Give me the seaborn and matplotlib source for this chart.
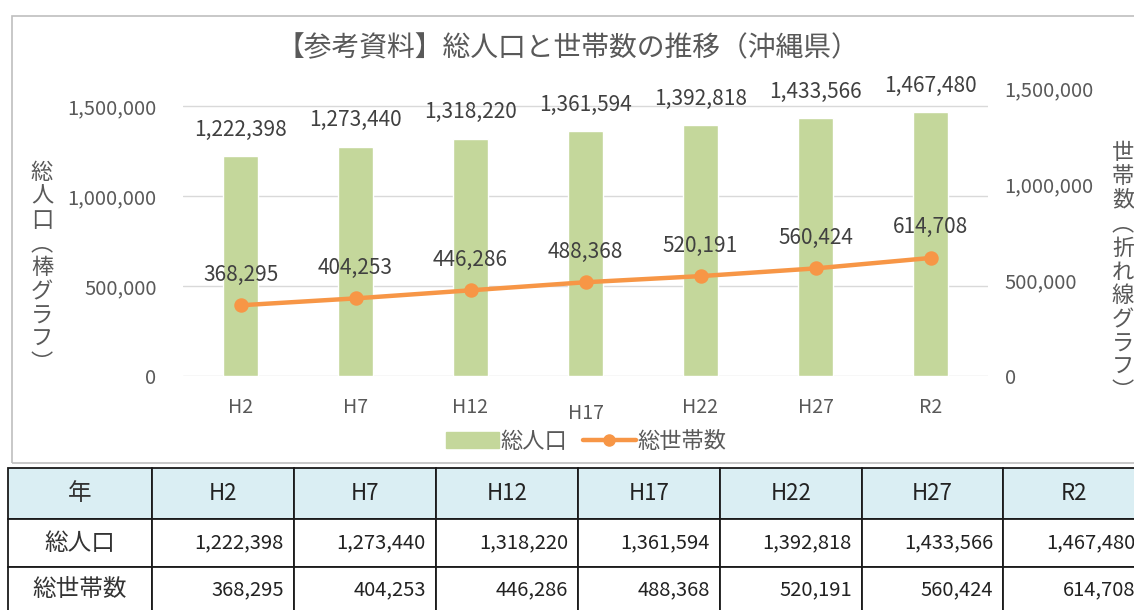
import pandas as pd
import matplotlib
matplotlib.use('Agg')
import matplotlib.pyplot as plt
import matplotlib.transforms as mtransforms
from matplotlib.patches import Rectangle, Patch
from matplotlib.lines import Line2D
import seaborn as sns

# --- データ ---
years = ['H2', 'H7', 'H12', 'H17', 'H22', 'H27', 'R2']
population = [1222398, 1273440, 1318220, 1361594, 1392818, 1433566, 1467480]
households = [368295, 404253, 446286, 488368, 520191, 560424, 614708]
left_ticks = [0, 500000, 1000000, 1500000]
right_ticks = [0, 500000, 1000000, 1500000]

title = '【参考資料】総人口と世帯数の推移（沖縄県）'
ylabel_left = '総人口（棒グラフ）'
ylabel_right = '世帯数（折れ線グラフ）'
row_labels = ['年', '総人口', '総世帯数']
legend_labels = ['総人口', '総世帯数']

GREEN = '#C4D79B'
ORANGE = '#F79646'
GRAY_TXT = '#595959'
LABEL_TXT = '#404040'

sns.set_theme(style='white')
plt.rcParams['font.family'] = ['Noto Sans CJK JP', 'DejaVu Sans']

W, H = 1134, 610
fig = plt.figure(figsize=(W / 100, H / 100), dpi=100)


def px_box(x0, y0, x1, y1):
    # ピクセル座標 -> figure 座標
    return [x0 / W, 1 - y1 / H, (x1 - x0) / W, (y1 - y0) / H]


def vertical(s):
    return '\n'.join(s.replace('（', '︵').replace('）', '︶'))


# --- 表 (下部) ---
tax = fig.add_axes([0, 0, 1, 1])
tax.set_xlim(0, W)
tax.set_ylim(H, 0)
tax.axis('off')
tax.patch.set_alpha(0)

col_edges = [8, 152, 294, 436, 578, 720, 862, 1003, 1145]
row_edges = [468, 519, 567, 615]
row_mid = [494, 543, 590]
table = [years, [f'{v:,}' for v in population], [f'{v:,}' for v in households]]

for r in range(3):
    y0, y1 = row_edges[r], row_edges[r + 1]
    for c in range(len(col_edges) - 1):
        x0, x1 = col_edges[c], col_edges[c + 1]
        tax.add_patch(Rectangle((x0, y0), x1 - x0, y1 - y0,
                                facecolor='#DAEEF3' if r == 0 else 'white',
                                edgecolor='#1a1a1a', lw=1.3, clip_on=False))
        ym = row_mid[r]
        if c == 0:
            tax.text((x0 + x1) / 2, ym, row_labels[r], ha='center', va='center',
                     fontsize=17, color='#333333')
        elif r == 0:
            tax.text((x0 + x1) / 2, ym, table[r][c - 1], ha='center', va='center',
                     fontsize=16, color='#222222')
        else:
            tax.text(x1 - 10, ym, table[r][c - 1], ha='right', va='center',
                     fontsize=14.5, color='#222222')

# --- グラフ枠 ---
fig.patches.append(Rectangle((12 / W, 1 - 463 / H), (1140 - 12) / W, (463 - 16) / H,
                             transform=fig.transFigure, fill=False,
                             edgecolor='#BFBFBF', lw=1.2))

# --- 棒グラフ (総人口) ---
df = pd.DataFrame({'年': years, '総人口': population, '総世帯数': households})

ax = fig.add_axes(px_box(183, 88, 988, 376))
sns.barplot(data=df, x='年', y='総人口', color=GREEN, saturation=1, width=0.31, ax=ax)
ax.set_xlim(-0.5, len(years) - 0.5)
ax.set_ylim(0, 1600000)
ax.set_yticks(left_ticks)
ax.set_yticklabels([f'{v:,}' for v in left_ticks])
ax.yaxis.grid(True, color='#D9D9D9', lw=1)
ax.set_axisbelow(True)
for s in ax.spines.values():
    s.set_visible(False)
ax.tick_params(axis='y', length=0, pad=19, labelsize=14.5, labelcolor=GRAY_TXT)
ax.tick_params(axis='x', length=0, pad=15, labelsize=14, labelcolor=GRAY_TXT)
ax.set_xlabel('')
ax.set_ylabel('')

# H17 のラベルだけ少し下にずれている
lbl = ax.get_xticklabels()[3]
lbl.set_transform(lbl.get_transform() + mtransforms.ScaledTranslation(0, -6 / 100, fig.dpi_scale_trans))

for i, v in enumerate(population):
    ax.annotate(f'{v:,}', (i, v), xytext=(0, 19), textcoords='offset points',
                ha='center', va='center', fontsize=15, color=LABEL_TXT)

# --- 折れ線グラフ (総世帯数) ---
ax2 = ax.twinx()
sns.pointplot(data=df, x='年', y='総世帯数', color=ORANGE, errorbar=None,
              markersize=8, linewidth=3.2, ax=ax2)
ax2.set_xlim(-0.5, len(years) - 0.5)
ax2.set_ylim(0, 1500000)
ax2.set_yticks(right_ticks)
ax2.set_yticklabels([f'{v:,}' for v in right_ticks])
ax2.grid(False)
for s in ax2.spines.values():
    s.set_visible(False)
ax2.tick_params(axis='y', length=0, pad=12, labelsize=14.5, labelcolor=GRAY_TXT)
ax2.set_xlabel('')
ax2.set_ylabel('')

for i, v in enumerate(households):
    ax2.annotate(f'{v:,}', (i, v), xytext=(0, 22), textcoords='offset points',
                 ha='center', va='center', fontsize=15, color=LABEL_TXT)

# --- タイトル・軸ラベル・凡例 ---
fig.text(568 / W, 1 - 48 / H, title, ha='center', va='center', fontsize=20, color=GRAY_TXT)
fig.text(42 / W, 1 - 268 / H, vertical(ylabel_left), ha='center', va='center',
         fontsize=16, color=GRAY_TXT, linespacing=1.05)
fig.text(1123 / W, 1 - 272 / H, vertical(ylabel_right), ha='center', va='center',
         fontsize=16, color=GRAY_TXT, linespacing=1.05)

handles = [Patch(color=GREEN, label=legend_labels[0]),
           Line2D([], [], color=ORANGE, lw=3.2, marker='o', ms=8, label=legend_labels[1])]
fig.legend(handles=handles, loc='center', bbox_to_anchor=(586 / W, 1 - 441 / H), ncol=2,
           frameon=False, fontsize=16, handlelength=2.4, handletextpad=0.05,
           columnspacing=0.7, labelcolor=GRAY_TXT)

fig.savefig('out.png', dpi=100)
